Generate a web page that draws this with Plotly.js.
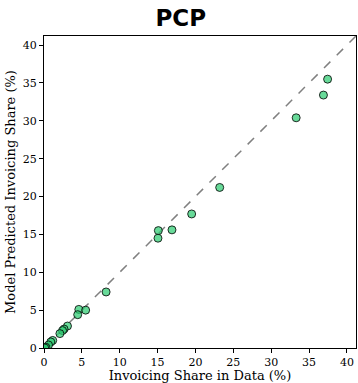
<!DOCTYPE html>
<html><head><meta charset="utf-8">
<script src="https://cdn.plot.ly/plotly-3.0.1.min.js"></script>
<style>html,body{margin:0;padding:0;background:#fff}</style>
</head><body>
<div id="chart" style="width:358px;height:383px"></div>
<script>
const dataShare = [37.45, 36.9, 33.3, 23.2, 19.5, 16.9, 15.1, 15.05, 8.2, 4.6, 5.5, 4.45, 3.1, 2.65, 2.45, 2.1, 1.15, 0.9, 0.6, 0.25, 0.1];
const modelShare = [35.5, 33.4, 30.4, 21.2, 17.7, 15.6, 15.5, 14.5, 7.4, 5.1, 5.0, 4.4, 2.9, 2.5, 2.3, 1.9, 1.0, 0.8, 0.4, 0.1, 0.0];
const diagLine = [0, 41.2];
const tickVals = [0, 5, 10, 15, 20, 25, 30, 35, 40];
const axisMax = 41.2;

const traces = [
  {x: diagLine, y: diagLine, mode: 'lines', line: {color: 'gray', dash: 'dash', width: 1.5}, hoverinfo: 'skip'},
  {x: dataShare, y: modelShare, mode: 'markers',
   marker: {size: 8, color: 'rgba(46,204,113,0.72)', line: {color: 'rgba(0,0,0,0.8)', width: 1}}}
];
const axisCommon = {
  range: [0, axisMax], tickvals: tickVals, ticks: 'outside', ticklen: 4, tickcolor: '#000',
  showline: true, linecolor: '#000', linewidth: 1, mirror: true, showgrid: false, zeroline: false,
  tickfont: {family: 'DejaVu Serif', size: 11, color: '#000'}
};
const layout = {
  width: 358, height: 383, showlegend: false,
  margin: {l: 44, r: 2, t: 36, b: 35},
  paper_bgcolor: '#fff', plot_bgcolor: '#fff',
  title: {text: '<b>PCP</b>', x: 0.505, xanchor: 'center', y: 0.952, yanchor: 'middle',
          font: {family: 'DejaVu Sans', size: 23, color: '#000'}},
  xaxis: Object.assign({}, axisCommon, {title: {text: 'Invoicing Share in Data (%)', standoff: 4,
          font: {family: 'DejaVu Serif', size: 13, color: '#000'}}}),
  yaxis: Object.assign({}, axisCommon, {title: {text: 'Model Predicted Invoicing Share (%)', standoff: 4,
          font: {family: 'DejaVu Serif', size: 13, color: '#000'}}})
};
Plotly.newPlot('chart', traces, layout, {displayModeBar: false, staticPlot: true});
</script>
</body></html>
